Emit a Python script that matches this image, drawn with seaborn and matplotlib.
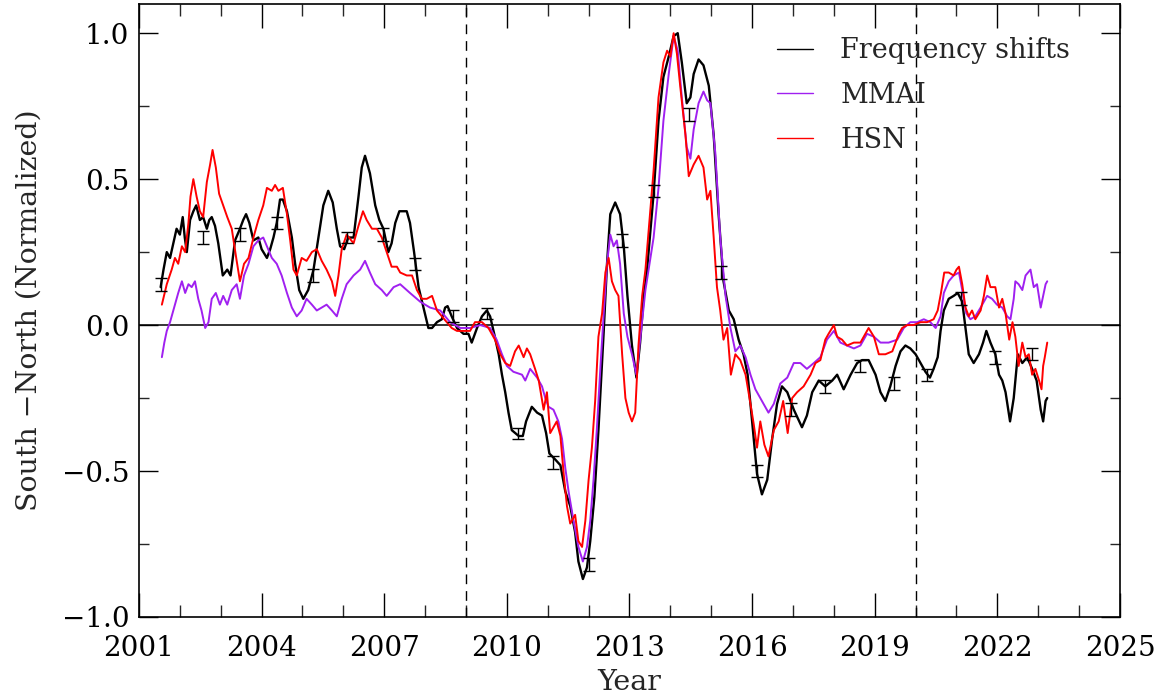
import numpy as np
import pandas as pd
import matplotlib
matplotlib.use("Agg")
import matplotlib.pyplot as plt
import seaborn as sns
from matplotlib.ticker import MultipleLocator, FuncFormatter

# Frequency shifts (black)
fs_year = [2001.53, 2001.60, 2001.68, 2001.76, 2001.84, 2001.92, 2002.00, 2002.07, 2002.12, 2002.17,
           2002.25, 2002.33, 2002.40, 2002.49, 2002.57, 2002.66, 2002.72, 2002.78, 2002.86, 2002.94,
           2003.05, 2003.16, 2003.24, 2003.35, 2003.47, 2003.55, 2003.62, 2003.70, 2003.80, 2003.92,
           2004.00, 2004.13, 2004.21, 2004.29, 2004.37, 2004.45, 2004.52, 2004.62, 2004.74, 2004.82,
           2004.92, 2005.02, 2005.14, 2005.27, 2005.39, 2005.51, 2005.63, 2005.74, 2005.84, 2005.92,
           2006.02, 2006.12, 2006.25, 2006.37, 2006.45, 2006.53, 2006.65, 2006.78, 2006.88, 2006.98,
           2007.10, 2007.18, 2007.27, 2007.37, 2007.45, 2007.55, 2007.63, 2007.73, 2007.84, 2007.96,
           2008.08, 2008.17, 2008.29, 2008.41, 2008.49, 2008.55, 2008.65, 2008.78, 2008.94, 2009.06,
           2009.14, 2009.27, 2009.39, 2009.51, 2009.59, 2009.69, 2009.80, 2009.88, 2009.96, 2010.04,
           2010.12, 2010.29, 2010.39, 2010.47, 2010.61, 2010.74, 2010.86, 2010.96, 2011.04, 2011.18,
           2011.31, 2011.43, 2011.55, 2011.67, 2011.75, 2011.86, 2011.96, 2012.04, 2012.14, 2012.24,
           2012.37, 2012.45, 2012.53, 2012.65, 2012.77, 2012.86, 2012.95, 2013.06, 2013.17, 2013.26,
           2013.35, 2013.43, 2013.59, 2013.71, 2013.83, 2013.96, 2014.08, 2014.18, 2014.28, 2014.40,
           2014.49, 2014.57, 2014.69, 2014.81, 2014.94, 2015.06, 2015.18, 2015.30, 2015.43, 2015.55,
           2015.67, 2015.79, 2015.89, 2016.00, 2016.12, 2016.24, 2016.37, 2016.49, 2016.61, 2016.73,
           2016.86, 2017.02, 2017.22, 2017.34, 2017.47, 2017.63, 2017.79, 2017.96, 2018.08, 2018.24,
           2018.41, 2018.57, 2018.69, 2018.85, 2019.02, 2019.14, 2019.26, 2019.38, 2019.51, 2019.63,
           2019.75, 2019.87, 2020.00, 2020.12, 2020.24, 2020.35, 2020.44, 2020.54, 2020.61, 2020.69,
           2020.81, 2020.93, 2021.03, 2021.14, 2021.22, 2021.30, 2021.42, 2021.55, 2021.65, 2021.73,
           2021.83, 2021.95, 2022.04, 2022.12, 2022.20, 2022.31, 2022.40, 2022.50, 2022.61, 2022.73,
           2022.85, 2022.96, 2023.06, 2023.12, 2023.18, 2023.22]
fs_val = [0.13, 0.19, 0.25, 0.23, 0.28, 0.33, 0.31, 0.37, 0.30, 0.25,
          0.36, 0.39, 0.41, 0.36, 0.37, 0.33, 0.36, 0.37, 0.34, 0.28,
          0.17, 0.19, 0.17, 0.29, 0.33, 0.36, 0.38, 0.35, 0.29, 0.30,
          0.26, 0.23, 0.26, 0.30, 0.35, 0.43, 0.43, 0.39, 0.30, 0.21,
          0.12, 0.09, 0.12, 0.19, 0.30, 0.41, 0.46, 0.42, 0.33, 0.27,
          0.26, 0.30, 0.30, 0.44, 0.54, 0.58, 0.52, 0.41, 0.36, 0.33,
          0.25, 0.28, 0.35, 0.39, 0.39, 0.39, 0.35, 0.25, 0.13, 0.06,
          -0.01, -0.01, 0.01, 0.02, 0.06, 0.065, 0.03, -0.01, -0.03, -0.03,
          -0.06, -0.01, 0.03, 0.05, 0.03, -0.03, -0.10, -0.17, -0.23, -0.30,
          -0.36, -0.38, -0.38, -0.33, -0.28, -0.30, -0.31, -0.37, -0.44, -0.46,
          -0.48, -0.57, -0.62, -0.71, -0.81, -0.87, -0.83, -0.74, -0.59, -0.36,
          -0.02, 0.21, 0.38, 0.42, 0.38, 0.27, 0.10, -0.07, -0.18, -0.06,
          0.10, 0.19, 0.45, 0.70, 0.85, 0.92, 0.99, 1.00, 0.90, 0.76,
          0.78, 0.86, 0.91, 0.89, 0.82, 0.65, 0.38, 0.15, 0.05, 0.02,
          -0.05, -0.10, -0.17, -0.33, -0.51, -0.58, -0.53, -0.39, -0.27, -0.21,
          -0.23, -0.29, -0.35, -0.31, -0.23, -0.19, -0.21, -0.19, -0.17, -0.22,
          -0.17, -0.13, -0.12, -0.12, -0.17, -0.23, -0.26, -0.21, -0.14, -0.09,
          -0.07, -0.08, -0.10, -0.13, -0.16, -0.18, -0.15, -0.11, -0.02, 0.05,
          0.09, 0.10, 0.11, 0.08, -0.01, -0.10, -0.13, -0.10, -0.06, -0.02,
          -0.06, -0.10, -0.17, -0.19, -0.23, -0.33, -0.25, -0.10, -0.13, -0.11,
          -0.15, -0.19, -0.29, -0.33, -0.26, -0.25]

# MMAI (purple)
mmai_year = [2001.56, 2001.62, 2001.68, 2001.76, 2001.88, 2001.96, 2002.05, 2002.13, 2002.21, 2002.29,
             2002.37, 2002.45, 2002.53, 2002.62, 2002.70, 2002.78, 2002.88, 2002.98, 2003.06, 2003.16,
             2003.27, 2003.39, 2003.47, 2003.57, 2003.68, 2003.80, 2003.92, 2004.04, 2004.13, 2004.25,
             2004.37, 2004.49, 2004.62, 2004.74, 2004.86, 2004.98, 2005.10, 2005.23, 2005.35, 2005.47,
             2005.59, 2005.72, 2005.84, 2005.96, 2006.08, 2006.25, 2006.41, 2006.53, 2006.65, 2006.78,
             2006.94, 2007.06, 2007.23, 2007.39, 2007.63, 2007.88, 2008.12, 2008.37, 2008.61, 2008.86,
             2009.10, 2009.35, 2009.59, 2009.75, 2009.88, 2010.00, 2010.16, 2010.37, 2010.45, 2010.57,
             2010.74, 2010.86, 2010.94, 2011.02, 2011.14, 2011.26, 2011.35, 2011.43, 2011.51, 2011.63,
             2011.75, 2011.86, 2011.96, 2012.04, 2012.12, 2012.20, 2012.29, 2012.37, 2012.45, 2012.53,
             2012.61, 2012.69, 2012.77, 2012.86, 2012.95, 2013.06, 2013.17, 2013.26, 2013.39, 2013.49,
             2013.59, 2013.71, 2013.83, 2013.96, 2014.08, 2014.18, 2014.28, 2014.40, 2014.49, 2014.57,
             2014.69, 2014.81, 2014.90, 2014.98, 2015.10, 2015.22, 2015.35, 2015.47, 2015.59, 2015.71,
             2015.84, 2015.96, 2016.08, 2016.20, 2016.32, 2016.40, 2016.53, 2016.69, 2016.86, 2017.02,
             2017.18, 2017.34, 2017.51, 2017.67, 2017.83, 2018.00, 2018.16, 2018.32, 2018.49, 2018.65,
             2018.81, 2018.98, 2019.14, 2019.34, 2019.55, 2019.71, 2019.87, 2020.04, 2020.20, 2020.36,
             2020.49, 2020.61, 2020.69, 2020.81, 2020.93, 2021.06, 2021.14, 2021.24, 2021.34, 2021.46,
             2021.59, 2021.75, 2021.87, 2021.99, 2022.12, 2022.24, 2022.32, 2022.40, 2022.44, 2022.52,
             2022.61, 2022.69, 2022.81, 2022.89, 2022.97, 2023.06, 2023.12, 2023.18, 2023.22]
mmai_val = [-0.11, -0.06, -0.02, 0.01, 0.07, 0.11, 0.15, 0.11, 0.14, 0.13,
            0.15, 0.09, 0.05, -0.01, 0.01, 0.09, 0.11, 0.07, 0.10, 0.07,
            0.12, 0.14, 0.09, 0.17, 0.21, 0.27, 0.29, 0.30, 0.27, 0.23,
            0.21, 0.17, 0.11, 0.06, 0.03, 0.05, 0.09, 0.07, 0.05, 0.06,
            0.07, 0.05, 0.03, 0.09, 0.14, 0.17, 0.19, 0.22, 0.18, 0.14,
            0.12, 0.10, 0.13, 0.14, 0.11, 0.08, 0.06, 0.05, 0.01, -0.01,
            -0.01, 0.00, -0.01, -0.05, -0.10, -0.14, -0.16, -0.17, -0.19, -0.15,
            -0.18, -0.21, -0.25, -0.28, -0.29, -0.33, -0.39, -0.49, -0.57, -0.67,
            -0.76, -0.81, -0.76, -0.67, -0.53, -0.36, -0.14, 0.04, 0.21, 0.31,
            0.27, 0.29, 0.21, 0.04, -0.04, -0.10, -0.17, -0.05, 0.12, 0.21,
            0.30, 0.47, 0.70, 0.86, 0.99, 0.94, 0.78, 0.61, 0.57, 0.67,
            0.76, 0.80, 0.77, 0.76, 0.59, 0.30, 0.10, -0.01, -0.09, -0.07,
            -0.11, -0.17, -0.22, -0.25, -0.28, -0.30, -0.27, -0.20, -0.18, -0.13,
            -0.13, -0.15, -0.13, -0.11, -0.05, -0.02, -0.06, -0.07, -0.08, -0.07,
            -0.03, -0.04, -0.06, -0.06, -0.05, -0.01, 0.01, 0.01, 0.02, 0.01,
            -0.01, 0.03, 0.11, 0.15, 0.17, 0.18, 0.12, 0.04, 0.02, 0.03,
            0.06, 0.10, 0.09, 0.07, 0.06, 0.03, 0.02, 0.09, 0.15, 0.14,
            0.12, 0.17, 0.19, 0.13, 0.14, 0.06, 0.10, 0.14, 0.15]

# HSN (red)
hsn_year = [2001.56, 2001.68, 2001.80, 2001.88, 2001.96, 2002.05, 2002.13, 2002.21, 2002.26, 2002.33,
            2002.41, 2002.49, 2002.57, 2002.66, 2002.74, 2002.80, 2002.88, 2002.96, 2003.06, 2003.16,
            2003.27, 2003.39, 2003.47, 2003.57, 2003.68, 2003.80, 2003.92, 2004.04, 2004.13, 2004.25,
            2004.33, 2004.41, 2004.52, 2004.62, 2004.70, 2004.78, 2004.86, 2004.98, 2005.10, 2005.23,
            2005.35, 2005.47, 2005.59, 2005.72, 2005.80, 2005.88, 2005.96, 2006.08, 2006.25, 2006.37,
            2006.48, 2006.57, 2006.70, 2006.82, 2006.94, 2007.06, 2007.18, 2007.31, 2007.39, 2007.55,
            2007.68, 2007.80, 2007.92, 2008.04, 2008.17, 2008.29, 2008.41, 2008.53, 2008.65, 2008.78,
            2008.94, 2009.10, 2009.22, 2009.39, 2009.55, 2009.71, 2009.84, 2009.96, 2010.08, 2010.20,
            2010.29, 2010.41, 2010.49, 2010.57, 2010.69, 2010.78, 2010.90, 2010.98, 2011.06, 2011.14,
            2011.22, 2011.31, 2011.39, 2011.47, 2011.55, 2011.67, 2011.75, 2011.84, 2011.92, 2012.00,
            2012.08, 2012.16, 2012.24, 2012.33, 2012.41, 2012.49, 2012.57, 2012.65, 2012.73, 2012.82,
            2012.90, 2012.98, 2013.06, 2013.14, 2013.22, 2013.31, 2013.39, 2013.49, 2013.59, 2013.71,
            2013.83, 2013.92, 2014.00, 2014.08, 2014.16, 2014.24, 2014.37, 2014.45, 2014.57, 2014.69,
            2014.81, 2014.90, 2014.98, 2015.06, 2015.14, 2015.22, 2015.30, 2015.39, 2015.48, 2015.59,
            2015.71, 2015.84, 2015.96, 2016.04, 2016.12, 2016.20, 2016.30, 2016.40, 2016.53, 2016.65,
            2016.76, 2016.87, 2016.98, 2017.10, 2017.26, 2017.43, 2017.55, 2017.67, 2017.79, 2017.87,
            2018.00, 2018.08, 2018.20, 2018.32, 2018.49, 2018.65, 2018.77, 2018.85, 2018.98, 2019.10,
            2019.26, 2019.43, 2019.59, 2019.67, 2019.79, 2019.95, 2020.12, 2020.28, 2020.44, 2020.54,
            2020.62, 2020.70, 2020.81, 2020.93, 2021.00, 2021.06, 2021.14, 2021.22, 2021.30, 2021.38,
            2021.46, 2021.59, 2021.67, 2021.75, 2021.83, 2021.95, 2022.04, 2022.12, 2022.20, 2022.29,
            2022.37, 2022.44, 2022.52, 2022.61, 2022.69, 2022.77, 2022.85, 2022.93, 2023.02, 2023.08,
            2023.12, 2023.16, 2023.22]
hsn_val = [0.07, 0.14, 0.19, 0.23, 0.21, 0.27, 0.25, 0.35, 0.44, 0.50,
           0.44, 0.39, 0.37, 0.49, 0.55, 0.60, 0.54, 0.45, 0.41, 0.37,
           0.33, 0.22, 0.15, 0.21, 0.23, 0.30, 0.36, 0.41, 0.47, 0.46,
           0.48, 0.46, 0.47, 0.38, 0.29, 0.19, 0.17, 0.23, 0.22, 0.25,
           0.26, 0.22, 0.19, 0.15, 0.10, 0.17, 0.26, 0.31, 0.28, 0.34,
           0.39, 0.36, 0.33, 0.33, 0.30, 0.25, 0.20, 0.20, 0.18, 0.17,
           0.17, 0.12, 0.09, 0.09, 0.10, 0.05, 0.03, 0.01, -0.01, -0.02,
           -0.02, -0.02, 0.01, 0.01, -0.01, -0.05, -0.10, -0.13, -0.14, -0.09,
           -0.07, -0.11, -0.08, -0.10, -0.15, -0.19, -0.29, -0.23, -0.37, -0.35,
           -0.33, -0.38, -0.51, -0.62, -0.68, -0.65, -0.74, -0.76, -0.67, -0.53,
           -0.42, -0.26, -0.04, 0.04, 0.18, 0.23, 0.15, 0.12, 0.10, -0.10,
           -0.25, -0.30, -0.33, -0.30, -0.07, 0.10, 0.19, 0.36, 0.53, 0.78,
           0.90, 0.94, 0.92, 1.00, 0.93, 0.82, 0.65, 0.51, 0.55, 0.58,
           0.54, 0.43, 0.46, 0.30, 0.13, 0.05, -0.05, -0.01, -0.17, -0.10,
           -0.12, -0.17, -0.27, -0.34, -0.42, -0.33, -0.41, -0.45, -0.36, -0.33,
           -0.26, -0.37, -0.25, -0.23, -0.21, -0.17, -0.13, -0.12, -0.05, -0.03,
           0.00, -0.04, -0.05, -0.07, -0.06, -0.06, -0.03, -0.01, -0.04, -0.10,
           -0.10, -0.09, -0.03, -0.01, 0.00, 0.00, 0.01, 0.01, 0.02, 0.05,
           0.11, 0.18, 0.18, 0.17, 0.19, 0.20, 0.14, 0.06, 0.03, 0.05,
           0.02, 0.05, 0.10, 0.17, 0.13, 0.13, 0.06, 0.09, 0.04, -0.05,
           0.01, -0.04, -0.14, -0.06, -0.11, -0.10, -0.17, -0.15, -0.19, -0.22,
           -0.14, -0.11, -0.06]

# error bars on the frequency shifts
err_year = [2001.54, 2002.57, 2003.47, 2004.37, 2005.25, 2006.08, 2006.96, 2007.76, 2008.68, 2009.51,
            2010.27, 2011.14, 2012.00, 2012.82, 2013.61, 2014.45, 2015.24, 2016.12, 2016.94, 2017.79,
            2018.65, 2019.47, 2020.28, 2021.10, 2021.95, 2022.85]
err_val = [0.14, 0.30, 0.31, 0.35, 0.17, 0.30, 0.31, 0.21, 0.03, 0.04,
           -0.37, -0.47, -0.82, 0.29, 0.46, 0.72, 0.18, -0.50, -0.29, -0.21,
           -0.14, -0.20, -0.17, 0.09, -0.11, -0.10]
err_size = [0.022, 0.022, 0.022, 0.021, 0.022, 0.02, 0.021, 0.021, 0.02, 0.02,
            0.019, 0.022, 0.022, 0.022, 0.021, 0.022, 0.022, 0.022, 0.022, 0.021,
            0.022, 0.021, 0.021, 0.022, 0.022, 0.021]

sns.set_style("ticks")
plt.rcParams['font.family'] = ['DejaVu Serif']
plt.rcParams['axes.unicode_minus'] = True

fig, ax = plt.subplots(figsize=(11.64, 7.0), dpi=100)
fig.subplots_adjust(left=0.1194, right=0.9622, bottom=0.1186, top=0.9943)

# reference lines first so the data sit on top
ax.axhline(0, color='black', lw=1.1, zorder=1)
for yr in [2009, 2020]:
    ax.axvline(yr, color='black', lw=1.0, linestyle=(0, (7, 5)), zorder=1)

sns.lineplot(x=fs_year, y=fs_val, color='black', lw=1.7, sort=False,
             estimator=None, label='Frequency shifts', ax=ax, zorder=3)
sns.lineplot(x=mmai_year, y=mmai_val, color='#a020f0', lw=1.4, sort=False,
             estimator=None, label='MMAI', ax=ax, zorder=4)
sns.lineplot(x=hsn_year, y=hsn_val, color='#ff0000', lw=1.4, sort=False,
             estimator=None, label='HSN', ax=ax, zorder=5)

ax.errorbar(err_year, err_val, yerr=err_size, fmt='none', ecolor='black',
            elinewidth=1.0, capsize=4.5, capthick=1.0, zorder=6)

ax.set_xlim(2001, 2025)
ax.set_ylim(-1.0, 1.1)
ax.xaxis.set_major_locator(MultipleLocator(3))
ax.xaxis.set_minor_locator(MultipleLocator(1))
ax.yaxis.set_major_locator(MultipleLocator(0.5))
ax.yaxis.set_minor_locator(MultipleLocator(0.25))
ax.yaxis.set_major_formatter(FuncFormatter(lambda v, p: f"{v:.1f}".replace('-', '\u2212')))

ax.tick_params(axis='x', which='major', direction='in', length=17, width=1.0,
               top=True, labelsize=20, pad=13, colors='black')
ax.tick_params(axis='x', which='minor', direction='in', length=8.5, width=1.0, top=True)
ax.tick_params(axis='y', which='major', direction='in', length=14, width=1.0,
               right=True, labelsize=20, pad=7, colors='black')
ax.tick_params(axis='y', which='minor', direction='in', length=7, width=1.0, right=True)

for sp in ax.spines.values():
    sp.set_color('black')
    sp.set_linewidth(1.2)

ax.set_xlabel('Year', fontsize=20.5, labelpad=5)
ax.set_ylabel('South \u2212North (Normalized)', fontsize=20.5, labelpad=14)

leg = ax.legend(loc='upper left', bbox_to_anchor=(0.650, 0.946), frameon=False,
                fontsize=19.5, handlelength=1.35, handletextpad=1.0, labelspacing=0.66,
                borderaxespad=0, borderpad=0)
for line in leg.get_lines():
    line.set_linewidth(1.0)

fig.savefig('out.png', dpi=100)
